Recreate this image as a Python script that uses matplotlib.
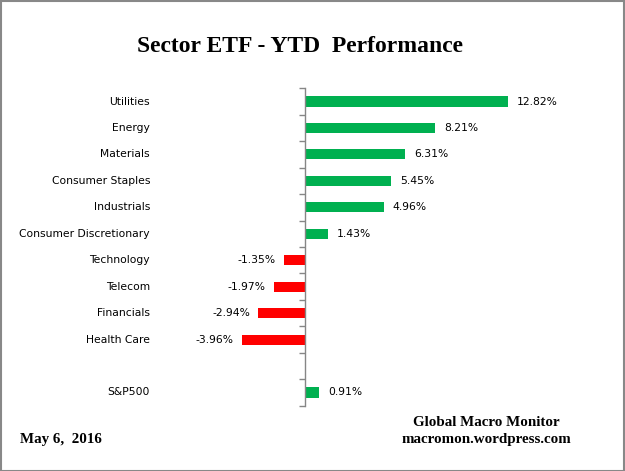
import matplotlib
matplotlib.use("Agg")
import matplotlib.pyplot as plt
from matplotlib.patches import Rectangle

# sector YTD performance (%), top to bottom; blank slot before S&P500
sectors = ["Utilities", "Energy", "Materials", "Consumer Staples", "Industrials",
           "Consumer Discretionary", "Technology", "Telecom", "Financials",
           "Health Care", "", "S&P500"]
ytd = [12.82, 8.21, 6.31, 5.45, 4.96, 1.43, -1.35, -1.97, -2.94, -3.96, None, 0.91]

GREEN = "#00B050"
RED = "#FF0000"
label_font = "DejaVu Sans"
serif_font = "Liberation Serif"

fig = plt.figure(figsize=(6.25, 4.71), dpi=100)
ax = fig.add_axes([160 / 625, (471 - 405.7) / 471, 440 / 625, 317.4 / 471])

rows = list(range(len(sectors)))
for y, v in zip(rows, ytd):
    if v is None:
        continue
    ax.barh(y, v, height=0.38, color=GREEN if v > 0 else RED, zorder=2)
    if v > 0:
        ax.annotate(f"{v:.2f}%", (v, y), xytext=(6.5, 0), textcoords="offset points",
                    ha="left", va="center", fontsize=7.75, family=label_font)
    else:
        ax.annotate(f"{v:.2f}%", (v, y), xytext=(-6, 0), textcoords="offset points",
                    ha="right", va="center", fontsize=7.75, family=label_font)

# category labels on the left
for y, name in zip(rows, sectors):
    ax.text(-10 / 440, y, name, transform=ax.get_yaxis_transform(),
            ha="right", va="center", fontsize=7.75, family=label_font)

ax.set_xlim(-(305 - 160) / 15.84, (600 - 305) / 15.84)
ax.set_ylim(len(sectors) - 0.5, -0.5)

for s in ["top", "right", "bottom"]:
    ax.spines[s].set_visible(False)
ax.spines["left"].set_position(("data", 0))
ax.spines["left"].set_color("#868686")
ax.spines["left"].set_linewidth(1)
ax.set_xticks([])
ax.set_yticks(rows)
ax.set_yticklabels([])
ax.tick_params(axis="y", which="major", length=0)
ax.set_yticks([r - 0.5 for r in rows] + [len(sectors) - 0.5], minor=True)
ax.tick_params(axis="y", which="minor", length=4, width=1, color="#868686", direction="out")

fig.text(300 / 625, 1 - 52 / 471, "Sector ETF - YTD  Performance", ha="center", va="baseline",
         fontsize=17, fontweight="bold", family=serif_font)
fig.text(486 / 625, 1 - 423 / 471, "Global Macro Monitor", ha="center", va="center",
         fontsize=10.8, fontweight="bold", family=serif_font)
fig.text(486 / 625, 1 - 440 / 471, "macromon.wordpress.com", ha="center", va="center",
         fontsize=10.8, fontweight="bold", family=serif_font)
fig.text(20 / 625, 1 - 440 / 471, "May 6,  2016", ha="left", va="center",
         fontsize=10.8, fontweight="bold", family=serif_font)

fig.patches.append(Rectangle((0.001, 0.001), 0.998, 0.997, transform=fig.transFigure,
                             fill=False, edgecolor="#888888", linewidth=1.5))

fig.savefig("out.png", dpi=100)
